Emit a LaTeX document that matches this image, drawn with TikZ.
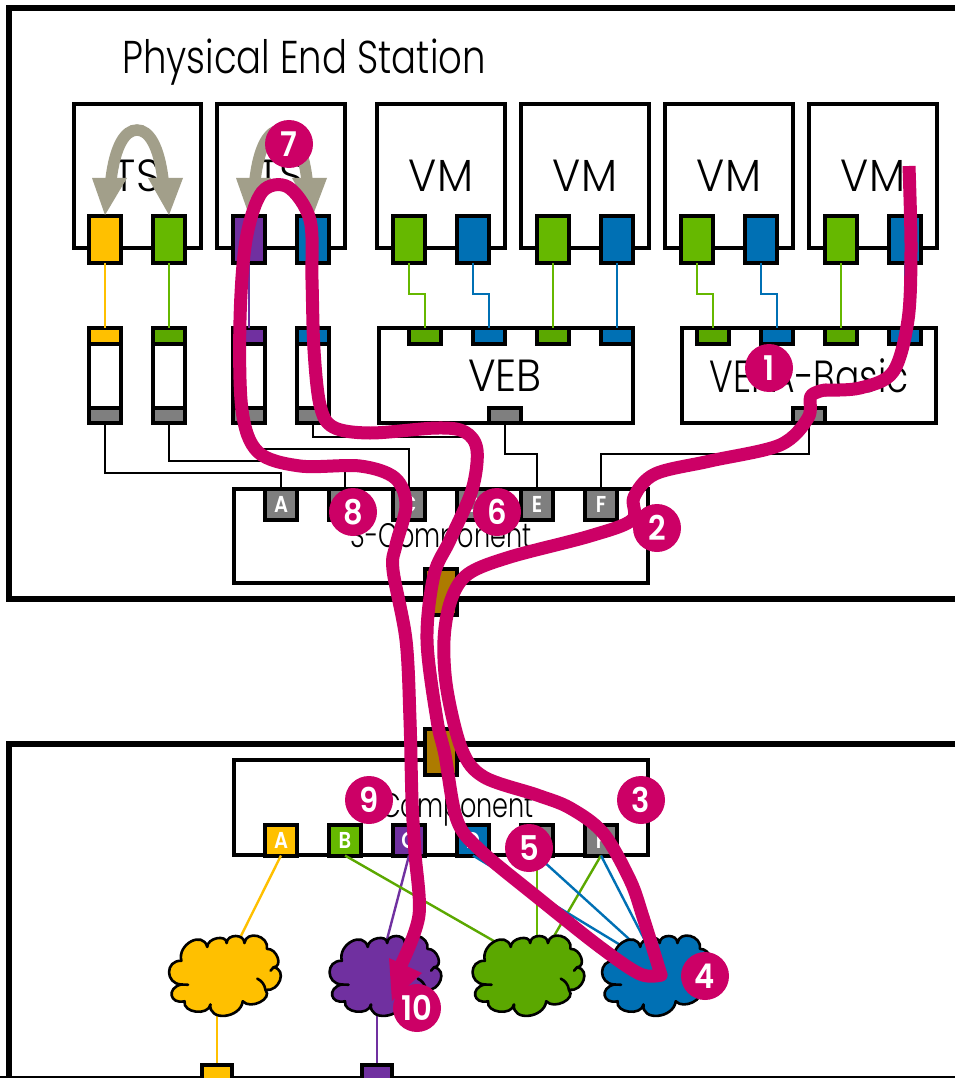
\documentclass[tikz,border=0pt]{standalone}
\usepackage{fontspec}
\usepackage{graphicx}
\setmainfont{Poppins Light}
\newfontfamily\boldf{Poppins SemiBold}
\usetikzlibrary{calc}
\definecolor{cyel}{HTML}{FFC000}
\definecolor{cgrn}{HTML}{66B800}
\definecolor{cgrd}{HTML}{5BA800}
\definecolor{cblu}{HTML}{0070B4}
\definecolor{cpur}{HTML}{7030A0}
\definecolor{cgry}{HTML}{7F7F7F}
\definecolor{cbrn}{HTML}{AD7B00}
\definecolor{cmag}{HTML}{CC0066}
\definecolor{carr}{HTML}{A29F8A}
\tikzset{
  x=1pt,y=-1pt,
  frame/.style={draw=black,line width=5.3pt},
  vmbox/.style={draw=black,fill=white,line width=4pt,minimum width=127.5pt,minimum height=143pt,inner sep=0pt,outer sep=0pt},
  nic/.style={draw=black,line width=4pt,minimum width=32pt,minimum height=47pt,inner sep=0pt,outer sep=0pt},
  sw/.style={draw=black,fill=white,line width=4pt,inner sep=0pt,outer sep=0pt,minimum height=95pt},
  tab/.style={draw=black,line width=4pt,minimum width=32pt,minimum height=16pt,inner sep=0pt,outer sep=0pt},
  gtab/.style={draw=black,line width=4pt,minimum width=32pt,minimum height=15pt,inner sep=0pt,outer sep=0pt},
  lport/.style={draw=black,line width=4pt,minimum width=32pt,minimum height=31pt,inner sep=0pt,outer sep=0pt,text=white,font=\fontsize{23}{23}\selectfont\boldf},
  uplink/.style={draw=black,fill=cbrn,line width=4pt,minimum width=32pt,minimum height=46pt,inner sep=0pt,outer sep=0pt},
  wire/.style={line width=2.4pt},
  bwire/.style={draw=black,line width=2pt},
  big/.style={font=\fontsize{45}{45}\selectfont,text=black},
  mid/.style={font=\fontsize{34}{34}\selectfont,text=black},
  gray arc/.style={draw=carr,line width=11.5pt},
  gray head/.style={fill=carr},
  trail/.style={draw=cmag,line width=13pt,line join=round},
  num/.style={circle,fill=cmag,text=white,minimum size=48pt,inner sep=0pt,font=\fontsize{34}{34}\selectfont\boldf},
  cloudline/.style={draw=black,line width=2.6pt,line join=round},
  endport/.style={draw=black,line width=4pt,minimum width=30pt,minimum height=30pt,inner sep=0pt,outer sep=0pt},
}
\newcommand{\lobecloud}[3]{%
\begin{scope}[shift={(#1,#2)},xscale=0.97,yscale=0.97]
\filldraw[cloudline,fill=#3] (-15,28.3)
 .. controls (-17.2,46.1) and (16.1,42.8) .. (18.3,25)
 .. controls (26.3,34.1) and (49.7,22.4) .. (41.7,13.3)
 .. controls (56.2,15.5) and (64.5,-7.8) .. (50,-10)
 .. controls (60.2,-10.7) and (53.5,-29.7) .. (43.3,-29)
 .. controls (45.5,-42.7) and (22.2,-48.7) .. (20,-35)
 .. controls (20.2,-44.7) and (1.9,-44.7) .. (1.7,-35)
 .. controls (1.7,-44.3) and (-18.3,-40.3) .. (-18.3,-31)
 .. controls (-22.8,-48.1) and (-49.5,-33.8) .. (-45,-16.7)
 .. controls (-61.9,-17.4) and (-61.9,7) .. (-45,7.7)
 .. controls (-60.5,11.2) and (-57.2,28.5) .. (-41.7,25)
 .. controls (-43.9,37.1) and (-17.2,40.4) .. (-15,28.3)
 -- cycle;
\draw[cloudline,line cap=round] (41.7,13.3) .. controls (41,8) and (38,4) .. (33.3,1.7);
\draw[cloudline,line cap=round] (50,-10) -- (47,-6.5);
\draw[cloudline,line cap=round] (-45,7.7) -- (-38,8);
\end{scope}}
\begin{document}
\begin{tikzpicture}
\useasboundingbox (0,0) rectangle (955,1078);
\fill[white] (0,0) rectangle (955,1078);
% outer frames
\draw[frame] (955,8) -| (9,599) -- (955,599);
\draw[frame] (955,744) -| (9,1078);
\draw[line width=1.5pt] (0,1077.2) -- (955,1077.2);
\node[anchor=west,font=\fontsize{46}{46}\selectfont,inner sep=0pt,xscale=0.805] (title) at (122,62) {Physical End Station};
% host boxes
\foreach \n/\x/\t in {h1/137.3/TS,h2/281/TS,h3/441/VM,h4/585/VM,h5/729/VM,h6/873/VM}{
  \node[vmbox] (\n) at (\x,176) {};
  \node[big,xscale=0.95] (\n t) at (\x,176) {\t};
}
% NICs
\foreach \n/\x/\c in {n1/105/cyel,n2/169/cgrn,n3/249/cpur,n4/313/cblu,n5/409/cgrn,n6/473/cblu,n7/553/cgrn,n8/617/cblu,n9/697/cgrn,n10/761/cblu,n11/841/cgrn,n12/905/cblu}{
  \node[nic,fill=\c] (\n) at (\x,239.5) {};
}
% small bridges
\foreach \n/\x/\c in {1/105/cyel,2/169/cgrd,3/249/cpur,4/313/cblu}{
  \node[sw,minimum width=32pt] (b\n) at (\x,375.5) {};
  \node[tab,fill=\c] (bt\n) at (\x,336) {};
  \node[gtab,fill=cgry] (bb\n) at (\x,415.5) {};
}
\node[sw,minimum width=254pt] (veb) at (505.5,375.5) {};
\node[big,xscale=0.93] (vebt) at (505,376) {VEB};
\node[sw,minimum width=254pt] (vepa) at (809,375.5) {};
\node[big,xscale=0.8] (vepat) at (809,376) {VEPA-Basic};
\foreach \n/\x/\c in {a/425/cgrd,b/489/cblu,c/553/cgrd,d/617/cblu,e/713/cgrd,f/777/cblu,g/841/cgrd,h/905/cblu}{
  \node[tab,fill=\c] (t\n) at (\x,336) {};
}
\node[gtab,fill=cgry] (vebb) at (505,415.5) {};
\node[gtab,fill=cgry] (vepb) at (809,415.5) {};
% wires NIC to bridges
\draw[wire,cyel] (n1.south) -- (bt1.north);
\draw[wire,cgrn] (n2.south) -- (bt2.north);
\draw[wire,cpur] (n3.south) -- (bt3.north);
\draw[wire,cblu] (n4.south) -- (bt4.north);
\draw[wire,cgrn] (n5.south) -- ++(0,31) -| (ta.north);
\draw[wire,cblu] (n6.south) -- ++(0,31) -| (tb.north);
\draw[wire,cgrn] (n7.south) -- (tc.north);
\draw[wire,cblu] (n8.south) -- (td.north);
\draw[wire,cgrn] (n9.south) -- ++(0,31) -| (te.north);
\draw[wire,cblu] (n10.south) -- ++(0,31) -| (tf.north);
\draw[wire,cgrn] (n11.south) -- (tg.north);
\draw[wire,cblu] (n12.south) -- (th.north);
% S-component
\node[sw,minimum width=414pt,minimum height=94pt] (scomp) at (441,536) {};
\node[mid,xscale=0.75] (scompt) at (441,540) {S-Component};
\foreach \n/\x/\l in {A/281/A,B/345/B,C/409/C,D/473/D,E/537/E,F/601/F}{
  \node[lport,fill=cgry] (s\n) at (\x,504.5) {\scalebox{.85}[1]{\l}};
}
\draw[bwire] (bb1.south) -- ++(0,50) -| (sA.north);
\draw[bwire] (bb2.south) -- ++(0,38) -| (sB.north);
\draw[bwire] (bb3.south) -- ++(0,26) -| (sC.north);
\draw[bwire] (bb4.south) -- ++(0,14) -| (sD.north);
\draw[bwire] (vebb.south) -- ++(0,31) -| (sE.north);
\draw[bwire] (vepb.south) -- ++(0,31) -| (sF.north);
\node[uplink] (upS) at (441,592) {};
% C-component
\node[sw,minimum width=414pt] (ccomp) at (441,807.5) {};
\node[mid,xscale=0.75] (ccompt) at (441,810) {C-Component};
\foreach \n/\x/\c in {A/281/cyel,B/345/cgrn,C/409/cpur,D/473/cblu,E/537/cgry,F/601/cgry}{
  \node[lport,fill=\c] (c\n) at (\x,840) {\scalebox{.85}[1]{\n}};
}
\node[uplink] (upC) at (441,752) {};
% cloud wires (ends hidden under clouds)
\coordinate (ky) at (225,968);
\coordinate (ky2) at (217,1000);
\coordinate (kp) at (379,970);
\coordinate (kp2) at (377,1000);
\coordinate (kg1) at (520,956);
\coordinate (kg2) at (537,970);
\coordinate (kg3) at (540,960);
\coordinate (kb1) at (650,963);
\coordinate (kb2) at (650,958);
\coordinate (kb3) at (655,960);
\coordinate (ty) at (217,1064);
\coordinate (tp) at (377,1064);
\draw[wire,cyel] (cA.south) -- (ky);
\draw[wire,cpur] (cC.south) -- (kp);
\draw[wire,cgrd] (cB.south) -- (kg1);
\draw[wire,cgrn] (cE.south) -- (kg2);
\draw[wire,cgrd] (cF.south) -- (kg3);
\draw[wire,cblu] (cD.south) -- (kb1);
\draw[wire,cblu] (cE.south) -- (kb2);
\draw[wire,cblu] (cF.south) -- (kb3);
\draw[wire,cyel] (ky2) -- (ty);
\draw[wire,cpur] (kp2) -- (tp);
% clouds
\lobecloud{225}{977}{cyel}
\lobecloud{385.5}{977}{cpur}
\lobecloud{528.5}{977}{cgrd}
\lobecloud{658}{977}{cblu}
% terminals
\node[endport,fill=cyel] (endy) at (217,1080) {};
\node[endport,fill=cpur] (endp) at (377,1080) {};
% gray loop arrows
\foreach \d in {0,144}{
  \begin{scope}[shift={(\d,0)}]
    \draw[gray arc] (111,180) .. controls (115,146) and (125,130) .. (137,130) .. controls (149,130) and (159,146) .. (163,180);
    \fill[gray head] (92,178) -- (127,178) -- (105,215) -- cycle;
    \fill[gray head] (148,178) -- (183,178) -- (169,215) -- cycle;
  \end{scope}
}
% trail
\draw[trail,line cap=butt] plot[smooth,tension=0.55] coordinates {(909,166) (911,250) (908,320) (893,372) (860,388) (825,390)};
\draw[trail,line cap=round] plot[smooth,tension=0.55] coordinates {(825,390) (811,396) (808,418) (780,445) (710,461) (655,474) (634,497) (632,520) (590,536) (510,557) (468,574) (451,600) (444,640) (447,690) (462,750) (484,777) (537,795) (570,808) (603,833) (630,880) (643,917) (661,975)};
\draw[trail,line cap=round] plot[smooth,tension=0.55] coordinates {(661,975) (640,974) (600,947) (537,897) (480,850) (457,820) (445,755) (437,720) (427,640) (434,575) (450,540) (472,490) (477,450) (465,432) (437,428) (370,433) (333,427) (320,405) (314,350) (312,280) (310,220) (288,187) (262,192) (246,240) (240,320) (242,410) (258,452) (300,466) (360,466) (395,478) (406,505) (396,545) (393,570) (406,640) (410,720) (412,800) (415,853) (419,915) (402,963)};
\fill[cmag] (389,958) -- (422,973) -- (392,1001) -- cycle;
% numbers
\foreach \t/\x/\y in {1/769/368,2/657/528,3/641/800,4/705/976,5/529/848,6/497/512,7/289/144,8/353/512,9/369/800,10/417/1008}{
  \node[num] (m\t) at (\x,\y) {\scalebox{.9}[1]{\t}};
}
\end{tikzpicture}
\end{document}
